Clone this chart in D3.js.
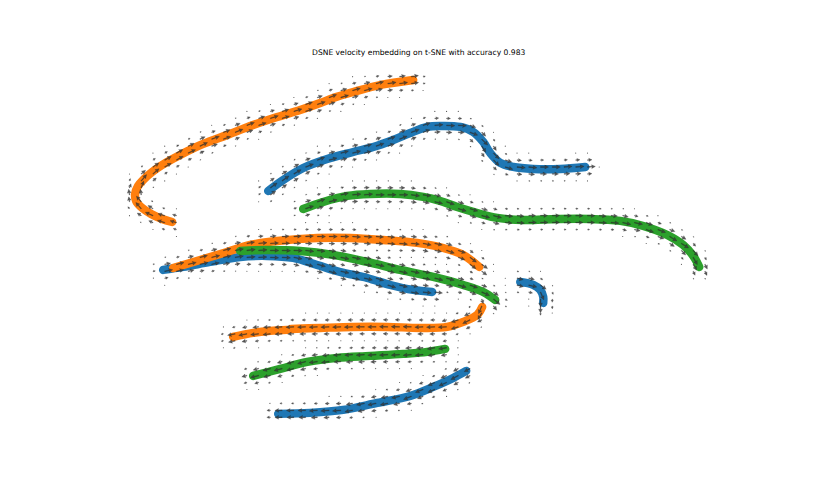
<!DOCTYPE html>
<html><head><meta charset="utf-8">
<script src="https://cdn.jsdelivr.net/npm/d3@7/dist/d3.min.js"></script>
<style>html,body{margin:0;padding:0;background:#fff}</style>
</head><body>
<svg id="chart" width="817" height="492"></svg>
<script>
// ---- data (t-SNE embedding coordinates) ----
const title = "DSNE velocity embedding on t-SNE with accuracy 0.983";
const xLim = [-29.8, 33.5];
const yLim = [-18.8, 19.1];
const clusterNames = ["0", "1", "2"];
const clusterColors = ["#1f77b4", "#ff7f0e", "#2ca02c"];

const orangeTop = [[-22.8,2.8],[-23.8,3.1],[-24.9,3.6],[-25.8,4.2],[-26.4,4.9],[-26.5,5.6],[-26.2,6.4],[-25.6,7.1],[-24.8,7.8],[-23.8,8.5],[-22.0,9.5],[-19.7,10.6],[-17.3,11.5],[-14.7,12.5],[-12.3,13.3],[-10.0,14.0],[-8.0,14.7],[-6.7,15.2],[-4.7,15.8],[-2.0,16.5],[1.3,17.0]];
const blueTop = [[-13.2,5.9],[-11.7,7.0],[-9.7,8.2],[-7.3,9.1],[-4.7,9.8],[-2.7,10.3],[-0.7,11.0],[1.0,11.7],[2.7,12.3],[4.0,12.4],[6.0,12.3],[7.3,11.8],[8.3,10.8],[9.0,9.7],[10.0,8.7],[11.3,8.3],[13.3,8.1],[16.0,8.1],[18.5,8.3]];
const greenTop = [[-9.7,4.1],[-7.7,4.8],[-5.3,5.4],[-3.0,5.6],[0.0,5.6],[2.3,5.3],[4.0,4.9],[5.7,4.3],[7.7,3.7],[9.7,3.2],[12.3,3.0],[15.7,3.1],[19.0,3.1],[22.0,2.9],[24.3,2.4],[26.7,1.5],[28.3,0.5],[29.3,-0.6],[29.7,-1.3],[29.9,-1.7]];
const blueMid = [[-23.7,-2.0],[-21.7,-1.7],[-19.0,-1.2],[-16.0,-0.7],[-13.3,-0.6],[-10.7,-0.8],[-8.3,-1.5],[-6.0,-2.2],[-3.3,-2.8],[-1.0,-3.5],[1.3,-4.0],[3.2,-4.2]];
const orangeMid = [[-22.7,-1.8],[-20.0,-1.0],[-17.3,-0.2],[-15.0,0.5],[-12.3,0.9],[-8.3,1.2],[-5.0,1.2],[-1.7,1.0],[1.7,0.7],[4.3,0.2],[6.3,-0.5],[7.9,-1.7]];
const greenMid = [[-16.0,-0.1],[-13.3,0.0],[-10.0,-0.1],[-6.7,-0.5],[-3.3,-1.2],[0.0,-2.0],[3.3,-2.7],[6.3,-3.5],[8.3,-4.2],[9.5,-5.0]];
const blueHook = [[12.0,-3.2],[13.3,-3.5],[14.0,-4.0],[14.3,-4.7],[14.3,-5.3]];
const orangeLowA = [[-16.7,-8.7],[-14.7,-8.3],[-13.0,-8.1],[-11.3,-8.0]];
const orangeLowB = [[-10.9,-7.9],[-8.0,-7.8],[-4.7,-7.7],[-1.3,-7.7],[2.0,-7.8],[4.7,-7.7],[6.3,-7.2],[7.7,-6.5],[8.2,-5.7]];
const greenLow = [[-14.7,-12.6],[-12.0,-11.9],[-9.3,-11.2],[-6.3,-10.8],[-3.0,-10.6],[0.3,-10.4],[2.7,-10.2],[4.5,-9.9]];
const blueBottom = [[-12.2,-16.4],[-9.0,-16.3],[-5.7,-16.0],[-2.3,-15.3],[1.0,-14.6],[3.3,-13.7],[5.3,-12.8],[6.6,-12.1]];

// cluster index of each trajectory and velocity direction along it (+1 forward, -1 backward)
const trajectories = [blueTop, blueMid, blueHook, blueBottom, orangeTop, orangeMid, orangeLowA, orangeLowB, greenTop, greenMid, greenLow];
const trajCluster  = [0, 0, 0, 0, 1, 1, 1, 1, 2, 2, 2];
const trajFlow     = [1, 1, 1, -1, 1, 1, -1, -1, 1, 1, -1];
const gridN = 50;

// ---- drawing ----
const ax = {left: 102.1, right: 735.3, top: 59.0, bottom: 437.9};
const svg = d3.select("#chart");
const x = d3.scaleLinear().domain(xLim).range([ax.left, ax.right]);
const y = d3.scaleLinear().domain(yLim).range([ax.bottom, ax.top]);

svg.append("text")
  .attr("x", (ax.left + ax.right) / 2).attr("y", 55)
  .attr("text-anchor", "middle")
  .attr("font-family", "DejaVu Sans, sans-serif")
  .attr("font-size", 7.6)
  .attr("fill", "#000")
  .text(title);

const line = d3.line().x(d => x(d[0])).y(d => y(d[1])).curve(d3.curveCatmullRom.alpha(0.5));
const gCurves = svg.append("g");
[0, 1, 2].forEach(c => {
  trajectories.forEach((t, i) => {
    if (trajCluster[i] !== c) return;
    gCurves.append("path")
      .attr("d", line(t))
      .attr("fill", "none")
      .attr("stroke", clusterColors[c])
      .attr("stroke-width", 8.4)
      .attr("stroke-linecap", "round")
      .attr("stroke-linejoin", "round");
  });
});

// ---- velocity grid (kernel-smoothed from trajectory tangents) ----
const allPts = trajectories.flat();
let [mx, Mx] = d3.extent(allPts, d => d[0]);
let [my, My] = d3.extent(allPts, d => d[1]);
const ex = 0.01 * (Mx - mx), ey = 0.01 * (My - my);
mx -= ex; Mx += ex; my -= ey; My += ey;
const gx = d3.range(gridN).map(i => mx + (Mx - mx) * i / (gridN - 1));
const gy = d3.range(gridN).map(i => my + (My - my) * i / (gridN - 1));

const pixTraj = trajectories.map(t => t.map(d => [x(d[0]), y(d[1])]));
function nearest(px, py, pts) {
  let best = Infinity, tx = 0, ty = 0;
  for (let k = 0; k < pts.length - 1; k++) {
    const [ax0, ay0] = pts[k], [bx, by] = pts[k + 1];
    const dx = bx - ax0, dy = by - ay0;
    const l2 = dx * dx + dy * dy;
    let s = ((px - ax0) * dx + (py - ay0) * dy) / l2;
    s = Math.max(0, Math.min(1, s));
    const qx = ax0 + s * dx, qy = ay0 + s * dy;
    const d = Math.hypot(px - qx, py - qy);
    if (d < best) { best = d; const l = Math.sqrt(l2); tx = dx / l; ty = dy / l; }
  }
  return {d: best, tx, ty};
}

const Lmax = 8.4, sigma = 6.5, cutoff = 15.5;
const arrows = [];
gx.forEach(vx => gy.forEach(vy => {
  const px = x(vx), py = y(vy);
  let minD = Infinity, sx = 0, sy = 0, sw = 0;
  pixTraj.forEach((pts, i) => {
    const n = nearest(px, py, pts);
    if (n.d < minD) minD = n.d;
    const w = Math.exp(-n.d * n.d / (2 * sigma * sigma));
    sx += w * n.tx * trajFlow[i]; sy += w * n.ty * trajFlow[i]; sw += w;
  });
  if (minD > cutoff) return;
  const ux = sx / Math.max(sw, 1e-9), uy = sy / Math.max(sw, 1e-9);
  const amp = Math.exp(-minD * minD / (2 * sigma * sigma));
  const L = Lmax * amp;
  const ang = Math.atan2(uy, ux) * 180 / Math.PI;
  arrows.push({px, py, L, ang});
}));

const hl = 3.8, hw = 3.8, hal = 3.3, shw = 0.8, minLen = hl * 1.4;
function arrowPath(L) {
  let s = 1, Ls = L;
  if (L < minLen) { s = L / minLen; Ls = minLen; }
  const p = [[0, shw/2], [Ls - hal, shw/2], [Ls - hl, hw/2], [Ls, 0], [Ls - hl, -hw/2], [Ls - hal, -shw/2], [0, -shw/2]]
    .map(q => [q[0] * s, q[1] * s]);
  return "M" + p.map(q => q[0].toFixed(2) + "," + q[1].toFixed(2)).join("L") + "Z";
}
const gA = svg.append("g");
arrows.forEach(a => {
  if (a.L < 1.0) {
    gA.append("circle").attr("cx", a.px).attr("cy", a.py).attr("r", 0.55)
      .attr("fill", "#333").attr("opacity", 0.85);
  } else {
    gA.append("path").attr("d", arrowPath(a.L))
      .attr("transform", `translate(${a.px},${a.py}) rotate(${a.ang})`)
      .attr("fill", "#3c3c3c").attr("stroke", "#111").attr("stroke-width", 0.25)
      .attr("opacity", 0.85);
  }
});
</script>
</body></html>
